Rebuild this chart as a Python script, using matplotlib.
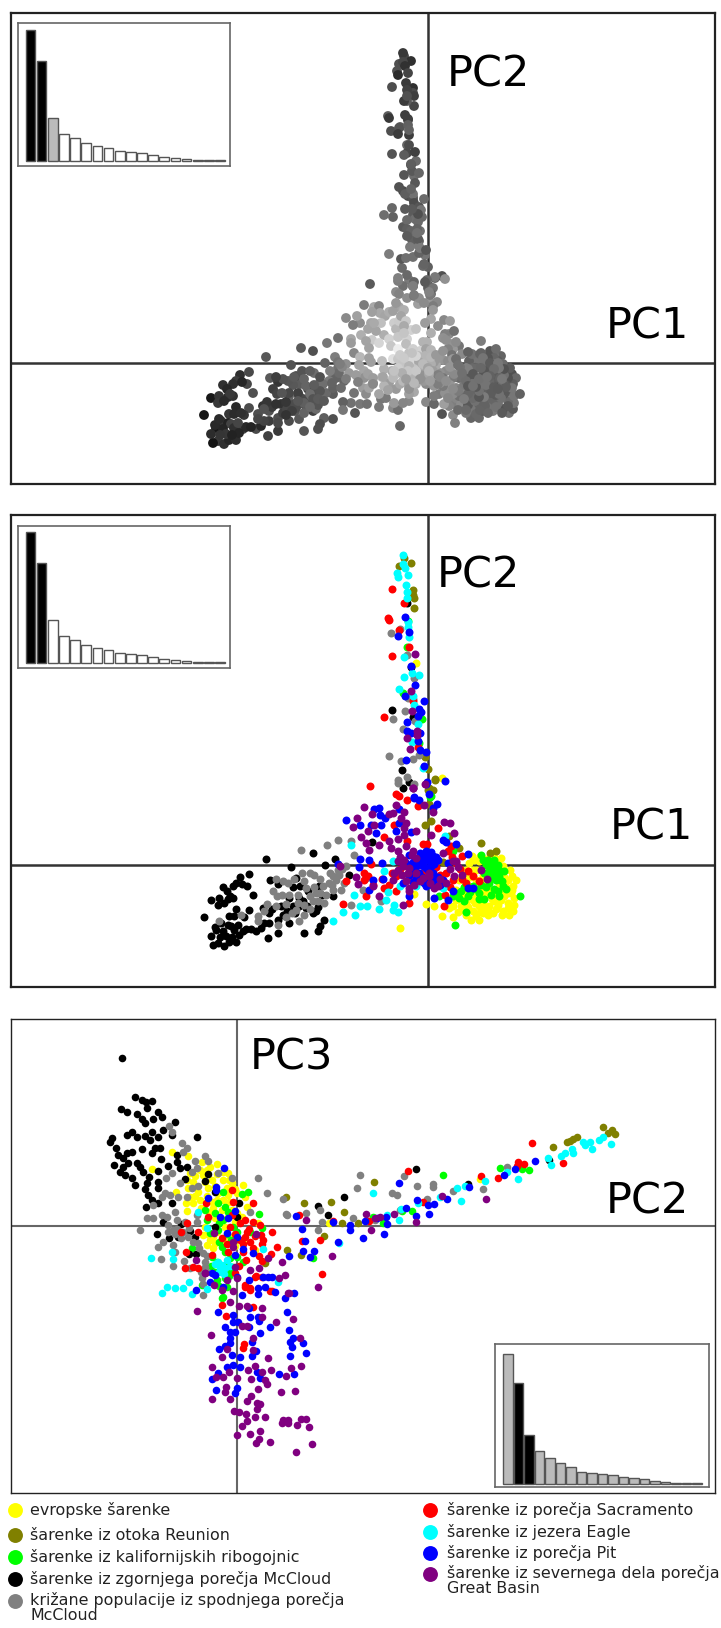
import numpy as np
import matplotlib
matplotlib.use("Agg")
import matplotlib.pyplot as plt

W, H = 721, 1628

# PC1 / PC2 scores (panels 1 and 2), one list per population
pc12_yellow = [(-28,-63),(-2,-39),(6,-41),(-14,-29),(14,-51),(25,-52),(43,-55),(51,-55),(81,-50),(85,-46),(86,-40),(84,-11),(88,-15),(85,-21),(73,7),(46,5),(41,2),(38,-5),(31,-15),(28,-25),(25,-41),(35,-45),(45,-46),(55,-48),(65,-48),(75,-46),(80,-38),(51,-41),(61,-41),(70,-40),(76,-31),(48,-31),(38,-38),(48,-15),(55,-11),(48,-5),(51,4),(61,-1),(68,-25),(80,-15),(83,-28),(55,-38),(45,-5),(55,-25),(41,-21),(61,-25),(71,-18),(28,-35),(21,-43),(48,-51),(60,-45),(80,-43),(-12,202),(14,87),
               (44,9),(52,9),(58,6),(66,8),(70,2),(36,-10),(42,-12),(52,-16),(60,-13),(70,-8),(76,-12),(34,-30),(40,-28),(46,-26),(52,-32),(58,-30),(64,-34),(72,-26),(78,-22),(33,-41),(40,-42),(47,-38),(57,-43),(66,-36),(73,-35),(80,-28),(86,-33),(30,-47),(38,-50),(52,-47),(60,-50),(68,-44),(74,-50),(84,-25),(65,-5),(75,-1),(82,-5),(45,-35),(58,-20),(68,-32)]
pc12_olive = [(53,22),(62,12),(68,14),(31,17),(21,29),(3,44),(-3,40),(1,61),(0,75),(3,75),(7,85),(15,3),(-24,307),(-17,302),(-29,299),(-15,275),(-15,270),(-14,267),(-14,257),(-3,108),(0,96),(7,86),(1,77),(5,75)]
pc12_green = [(53,10),(66,5),(58,0),(61,-6),(71,-11),(76,-6),(75,-21),(78,-24),(92,-31),(71,-31),(63,-30),(56,-34),(51,-34),(51,-28),(38,-47),(27,-60),(33,-26),(31,-33),(25,14),(3,69),(25,-31),(68,-15),(61,-18),(53,-20),(65,-11),(71,-5),(60,5),(45,-21),(40,-31),(11,-31),(66,-1),(-20,244),(-21,218),(-25,172),(-6,146),(-9,122),(2,68),
              (55,5),(62,0),(70,0),(56,-8),(66,-6),(62,-13),(72,-15),(58,-22),(66,-24),(74,-16),(48,-24),(36,-22),(42,-27),(30,-28),(36,-36),(70,-26)]
pc12_black = [(-162,6),(-115,12),(-93,6),(-103,0),(-137,-2),(-179,-9),(-188,-12),(-158,-15),(-150,-19),(-192,-18),(-195,-21),(-205,-22),(-181,-21),(-201,-26),(-175,-30),(-217,-35),(-209,-33),(-200,-34),(-195,-33),(-210,-40),(-192,-44),(-179,-45),(-224,-52),(-199,-51),(-194,-51),(-184,-52),(-207,-58),(-200,-60),(-197,-61),(-212,-65),(-217,-71),(-205,-66),(-194,-65),(-185,-66),(-182,-64),(-210,-78),(-215,-80),(-204,-81),(-199,-77),(-192,-77),(-202,-71),(-189,-70),(-172,-66),(-167,-63),(-160,-73),(-150,-68),(-159,-58),(-150,-55),(-165,-43),(-159,-48),(-147,-41),(-139,-58),(-145,-50),(-135,-41),(-129,-41),(-121,-41),(-139,-33),(-129,-33),(-128,-21),(-132,-13),(-109,-21),(-106,-30),(-95,-31),(-79,-10),(-115,-48),(-104,-55),(-108,-61),(-110,-66),(-124,-68),(-122,-43),(-21,262),(-17,198),(-36,155),(-15,148),(-26,95),(-19,83),(-25,77),(-56,23),
              (-186,-19),(-198,-31),(-204,-38),(-213,-62),(-208,-72),(-196,-72),(-190,-60),(-177,-64),(-164,-58),(-156,-44),(-141,-46),(-133,-48),(-125,-36),(-112,-46),(-120,-26),(-135,-22),(-110,-42)]
pc12_gray = [(-127,15),(-101,20),(-90,25),(-77,24),(-74,10),(-82,-1),(-90,-5),(-95,-11),(-114,-10),(-92,-15),(-99,-18),(-84,-18),(-140,-18),(-155,-26),(-151,-31),(-122,-23),(-112,-28),(-118,-31),(-130,-30),(-102,-30),(-115,-36),(-132,-45),(-129,-56),(-161,-39),(-170,-51),(-152,-41),(-150,-60),(-187,-50),(-209,-56),(-170,-56),(-62,-13),(-65,-25),(-47,-36),(-77,-40),(-95,-25),(-87,-25),(-105,-21),(-89,-10),(-124,-50),(-142,-39),(-145,-16),(-139,-30),(-37,232),(-28,236),(-21,210),(-14,187),(-20,167),(-15,166),(-23,154),(-35,146),(-13,144),(-25,136),(-39,109),(-27,104),(-15,106),(-9,110),(-21,88),(-30,82),(-14,81),(-30,85),(-15,77),
             (-134,-14),(-126,-8),(-118,-8),(-124,-16),(-108,-28),(-98,-8),(-108,-14),(-86,-4),(-96,-20),(-110,-36),(-124,-40),(-136,-48),(-118,-44),(-142,-52),(-130,-38),(-104,-38),(-114,-22),(-146,-30),(-152,-14),(-164,-46)]
pc12_red = [(-58,79),(-32,71),(-29,69),(-21,65),(-10,59),(10,37),(-34,40),(-44,28),(-21,24),(-5,21),(-1,21),(23,19),(20,14),(34,9),(-57,1),(-64,-8),(-64,-15),(-60,-11),(-46,-14),(-39,-20),(-44,-23),(-55,-20),(-62,-31),(-32,-26),(-19,-38),(-32,-11),(-22,-1),(-9,0),(-5,-8),(5,-5),(18,-8),(17,-30),(16,-41),(25,-15),(40,-6),(45,-11),(51,-16),(-85,-39),(-82,-16),(-36,276),(-24,262),(-40,247),(-39,245),(-29,235),(-19,218),(-36,209),(-44,148),(-15,164),(-10,118),
            (24,8),(28,2),(32,-4),(12,-10),(8,-2),(-14,-4),(-28,-4),(-36,-8),(-18,-12),(34,-14),(38,-18),(22,-22)]
pc12_cyan = [(-95,-56),(-85,-47),(-73,-50),(-68,-41),(-61,-41),(-49,-44),(-35,-45),(-30,-47),(-34,-40),(-42,-35),(-40,-27),(-74,-30),(-28,-21),(-12,-21),(-44,-6),(-35,4),(17,29),(-77,20),(15,-23),(-25,310),(-25,301),(-23,297),(-31,292),(-30,288),(-20,290),(-22,280),(-21,273),(-21,267),(-20,243),(-20,238),(-19,228),(-24,208),(-24,188),(-16,192),(-9,190),(-29,176),(-15,169),(-14,160),(-10,141),(-16,123),(-5,97)]
pc12_blue = [(-82,45),(-68,40),(-54,56),(-49,57),(-48,50),(-43,47),(-57,40),(-47,40),(-32,34),(-29,42),(-14,67),(-9,65),(-2,81),(17,84),(9,61),(5,57),(-17,33),(-52,32),(-29,56),(15,25),(18,23),(28,21),(40,11),(-68,6),(-59,5),(-69,-2),(-90,1),(-46,2),(-22,2),(-19,10),(-5,10),(0,10),(5,9),(10,5),(-5,4),(1,4),(6,1),(-12,-1),(-2,-3),(3,-1),(-9,-8),(-19,-10),(-25,-18),(-2,-21),(6,-15),(15,-15),(25,-26),(20,-35),(6,-33),(-19,-31),(-45,-14),(-59,-25),(40,-23),(45,-23),(-55,-15),(20,2),(-15,-17),(-23,248),(-19,233),(-30,229),(-17,199),(-13,180),(-23,169),(-4,164),(-9,156),(-7,153),(-10,149),(-21,143),(-21,134),(-17,132),(-8,132),(-10,124),(-8,115),(-2,113),(-22,105),(-4,99),(-1,83),(1,71),(-14,68),
             (-8,12),(-2,14),(3,13),(-10,7),(-3,7),(3,6),(8,8),(-15,3),(-9,1),(-5,-1),(0,-5),(5,-8),(-14,-6),(-6,-12),(0,-14),(10,-12),(-12,-14),(-4,-18),(4,-20),(12,-20)]
pc12_purple = [(-64,58),(-71,47),(-75,38),(-56,51),(-60,34),(-54,40),(-67,28),(-62,22),(-49,20),(-59,15),(-39,51),(-35,52),(-32,60),(-24,53),(-27,47),(-22,42),(-24,37),(-39,24),(-30,26),(-24,30),(-12,34),(-37,17),(-30,14),(-22,19),(-15,14),(-15,77),(-4,60),(5,53),(16,43),(22,42),(26,32),(3,30),(15,12),(-88,-1),(-72,-12),(-70,-19),(-49,-31),(-55,-21),(-35,-15),(-30,4),(-25,-1),(-30,-5),(-19,-3),(-12,7),(-5,-13),(1,-11),(-19,-23),(-25,-40),(6,-23),(10,-21),(25,4),(28,4),(26,-11),(34,-10),(53,-5),(59,-14),(-19,-26),(1,-8),(-13,211),(-17,174),(-16,154),(-11,134),(-11,130),(-21,127),(-18,116),(-3,81),(-15,77),
               (-28,8),(-24,5),(-20,-8),(-26,-10),(-12,-8),(-8,-16),(2,-18),(12,-14),(18,-18),(22,-4),(30,-2),(-14,-20),(-22,-16),(-34,-8),(-16,10)]

# PC2 / PC3 scores (panel 3)
pc23_yellow = [(-65,74),(-49,70),(-85,57),(-61,34),(-35,64),(-20,62),(-27,59),(-47,53),(-37,56),(-14,54),(-9,53),(-50,46),(-44,44),(-34,51),(-25,46),(-14,46),(-5,43),(-49,38),(-39,34),(-29,38),(-19,33),(-9,31),(0,33),(6,41),(-47,29),(-37,26),(-25,24),(-14,26),(-5,16),(-51,23),(-44,23),(-50,15),(-24,18),(-15,16),(10,19),(8,29),(-22,8),(-32,-1),(-27,-14),(-22,-17),(-30,-19),(-12,-1),(-7,-11),(5,9),(21,3),(6,-17),(18,-24),(0,13),(-34,-9),(-24,-11),(243,47),(92,3),
               (-42,50),(-30,56),(-20,52),(-8,46),(-40,38),(-32,44),(-22,40),(-10,38),(-2,37),(-42,30),(-30,30),(-20,26),(-8,24),(-36,18),(-28,14),(-10,8),(-2,4),(-30,-8),(-20,-6),(-14,-14),(-24,-22),(-2,-20)]
pc23_olive = [(49,29),(67,23),(94,24),(107,14),(137,44),(105,3),(121,3),(87,-10),(50,-24),(316,79),(330,84),(333,85),(336,87),(340,89),(366,99),(371,93),(375,96),(378,92),(64,-29),(28,-37)]
pc23_green = [(136,9),(146,3),(165,15),(175,15),(206,51),(263,58),(285,57),(292,56),(-14,34),(5,32),(11,34),(-19,23),(-12,19),(-32,16),(-22,13),(22,12),(-14,6),(-30,6),(-19,-4),(-27,-7),(-4,-1),(0,-6),(13,-6),(25,-2),(-15,-21),(-45,-22),(-25,-31),(-7,-32),(-15,-44),(-4,-41),(-20,-54),(-10,-61),(-14,-71),(76,-32),(0,-31),(6,-36),(-15,-72),(-7,-46),(-35,-59),
              (-9,14),(-18,3),(-10,-8),(-18,-16),(-12,-26),(-20,-36),(-10,-38),(-22,-46),(-8,-50),(-18,-60),(-12,-52),(-26,-40),(-6,-14)]
pc23_black = [(-115,168),(-102,129),(-95,126),(-91,124),(-85,125),(-90,118),(-116,117),(-110,114),(-100,112),(-95,107),(-92,103),(-79,114),(-75,109),(-84,107),(-62,104),(-74,96),(-85,94),(-65,91),(-40,89),(-105,94),(-110,91),(-100,89),(-92,90),(-79,89),(-125,88),(-127,84),(-87,86),(-121,78),(-95,77),(-85,73),(-77,78),(-82,78),(-119,71),(-110,73),(-105,74),(-114,68),(-109,63),(-60,71),(-76,67),(-100,63),(-97,59),(-123,61),(-114,59),(-79,55),(-69,60),(-60,64),(-57,58),(-50,59),(-94,54),(-117,54),(-112,51),(-105,48),(-102,41),(-88,49),(-90,43),(-79,44),(-79,38),(-52,47),(-29,52),(-32,45),(-22,34),(-92,37),(-89,31),(-85,26),(-79,23),(-65,23),(-91,19),(2,23),(0,9),(-22,-1),(-74,4),(-56,2),(-47,-5),(-80,-8),(-68,-12),(-59,-11),(-42,-11),(-48,-28),(-41,-28),(81,20),(107,29),(91,11),(179,57),(231,42),(312,66)]
pc23_gray = [(-68,100),(-65,94),(-55,83),(-50,78),(-54,74),(-32,70),(-29,65),(-42,65),(-40,58),(-45,54),(-71,48),(-65,53),(-19,53),(-5,48),(21,48),(30,33),(-57,43),(-39,40),(-45,38),(-72,33),(-67,31),(-59,29),(-50,29),(-75,29),(-84,21),(-62,14),(-75,11),(-84,8),(-90,8),(-70,9),(-40,11),(-40,4),(-60,6),(-69,1),(-64,-4),(-97,-4),(-54,-6),(-69,-6),(-49,-11),(-74,-16),(-79,-21),(-64,-19),(-62,-26),(-76,-33),(-53,-35),(-64,-40),(-34,-27),(-32,-36),(-32,-41),(-39,-17),(50,11),(46,27),(69,13),(83,16),(85,4),(81,-4),(-47,-42),(-35,-52),(-34,-69),(13,14),(49,12),(116,8),(120,38),(123,51),(155,33),(160,31),(167,50),(180,40),(196,42),(196,39),(190,27),(163,16),(216,35),(246,37),(270,59),(138,6),
             (-52,4),(-60,-3),(-48,-2),(-38,-22),(-30,-30),(-36,-46),(-30,-46),(-44,-16),(-56,-12),(-62,-8),(-34,-58)]
pc23_red = [(171,55),(62,11),(96,5),(132,5),(65,-15),(83,-14),(186,24),(244,50),(261,48),(281,64),(280,60),(287,62),(295,83),(326,63),(-5,36),(-31,23),(-4,24),(16,23),(-29,9),(8,6),(16,4),(-5,11),(23,1),(35,-6),(24,-9),(26,-14),(25,-18),(10,-6),(8,-11),(3,-14),(13,-16),(-7,-1),(-15,-12),(-39,-6),(-25,-29),(-9,-26),(-51,-26),(-52,-42),(-44,-41),(-39,-42),(6,-26),(40,-21),(34,-28),(25,-35),(9,-34),(18,-51),(25,-51),(8,-61),(13,-62),(-2,-47),(85,-48),(-56,-6),(-50,3),(35,-65),(-11,-90),(-15,-79),(16,-81),(7,-118),(6,-122),(33,-65),(19,-50),(8,-59),(13,-64),
            (3,3),(12,-3),(18,-10),(6,-18),(-2,-8),(-10,-18),(16,-22),(22,-30),(2,-40)]
pc23_cyan = [(136,33),(162,6),(164,17),(181,23),(203,29),(220,38),(224,25),(228,40),(248,45),(281,47),(270,54),(311,68),(314,61),(324,70),(328,73),(335,77),(336,73),(346,84),(353,84),(348,81),(355,77),(362,86),(366,89),(374,82),(102,-17),(150,11),(-39,14),(-65,-26),(-86,-32),(-64,-33),(-75,-67),(-70,-61),(-62,-62),(-54,-62),(-48,-56),(-30,-63),(-45,-68),(-19,-36),(-15,-39),(-12,-42),(-17,-42),(-10,-34),(26,-23),(41,-56),(-30,-2),(-22,-38),(-18,-46),(-13,-48),(-7,-40)]
pc23_blue = [(-13,58),(-21,39),(-21,36),(-29,28),(-17,9),(-9,8),(-2,15),(-10,-7),(0,-11),(6,-23),(16,-27),(-2,-29),(-25,-47),(-22,-49),(-27,-56),(0,-51),(12,-54),(26,-51),(31,-51),(35,-51),(21,-62),(28,-61),(21,-68),(38,-66),(57,-67),(48,-72),(-41,-64),(-14,-61),(5,-69),(59,10),(96,4),(65,-3),(113,-4),(68,-15),(101,-16),(52,-30),(77,-25),(73,-31),(66,-25),(113,1),(126,-12),(128,5),(140,8),(149,9),(150,2),(147,-8),(169,18),(179,10),(192,12),(162,43),(180,26),(191,21),(197,22),(210,27),(232,39),(267,51),(278,57),(298,65),(-19,-86),(-4,-89),(-4,-96),(1,-96),(12,-82),(13,-91),(21,-91),(22,-95),(-12,-101),(12,-101),(50,-86),(33,-101),(-7,-106),(-2,-106),(23,-107),(52,-104),(-7,-112),(-7,-117),(15,-116),(-12,-120),(-18,-123),(19,-125),(-5,-129),(3,-131),(15,-130),(56,-112),(53,-116),(55,-121),(66,-117),(69,-127),(53,-130),(-10,-141),(-4,-139),(3,-141),(-19,-147),(-25,-153),(20,-146),(23,-152),(42,-148),(57,-148),(-21,-164),(0,-162),(-2,-167)]
pc23_purple = [(-40,-85),(-7,-76),(2,-80),(10,-80),(25,-82),(25,-91),(39,-96),(56,-93),(5,-100),(10,-100),(-26,-109),(16,-112),(63,-112),(-10,-123),(-15,-131),(16,-124),(31,-132),(-25,-141),(18,-140),(11,-144),(25,-146),(34,-144),(54,-142),(64,-140),(-21,-151),(-14,-151),(-8,-146),(0,-152),(14,-153),(49,-150),(28,-154),(30,-158),(-12,-166),(-11,-161),(21,-163),(44,-166),(58,-165),(-25,-173),(-7,-173),(10,-175),(14,-170),(20,-177),(23,-178),(20,-183),(-3,-185),(2,-186),(9,-188),(28,-191),(18,-191),(10,-195),(5,-200),(46,-194),(51,-194),(45,-197),(51,-197),(64,-193),(69,-193),(60,-199),(72,-201),(0,-209),(13,-208),(23,-205),(22,-213),(19,-217),(33,-216),(75,-218),(59,-226),(81,-61),(42,-52),(48,-49),(51,-67),(-15,-64),(-32,-47),(13,-44),(22,-42),(45,-36),(-2,-41),(-23,-7),(-4,-16),(-4,-21),(-41,-34),(-32,-47),(-23,-59),(-10,-54),(0,-52),(31,-32),(95,-30),(69,6),(19,-8),(52,-67),(-4,-65),(129,12),(134,-4),(143,9),(157,12),(179,4),(205,30),(249,27),(138,8)]

pop_colors = ["#ffff00", "#808000", "#00ff00", "#000000", "#808080", "#ff0000", "#00ffff", "#0000ff", "#800080"]
pc12_all = [pc12_yellow, pc12_olive, pc12_green, pc12_black, pc12_gray, pc12_red, pc12_cyan, pc12_blue, pc12_purple]
pc23_all = [pc23_yellow, pc23_olive, pc23_green, pc23_black, pc23_gray, pc23_red, pc23_cyan, pc23_blue, pc23_purple]

# eigenvalue insets
eig_top = [391, 299, 128, 81, 69, 53, 45, 39, 30, 25, 22, 18, 12, 9, 6, 3, 2, 1]
eig_bottom = [390, 303, 147, 97, 76, 62, 50, 36, 33, 28, 26, 21, 18, 14, 8, 5, 3, 2, 1]
eig1_colors = ["black", "black", "#bbbbbb"] + ["white"] * 15
eig2_colors = ["black", "black"] + ["white"] * 16
eig3_colors = ["#bbbbbb", "black", "black"] + ["#bbbbbb"] * 16

legend_left = ["evropske šarenke", "šarenke iz otoka Reunion", "šarenke iz kalifornijskih ribogojnic",
               "šarenke iz zgornjega porečja McCloud", "križane populacije iz spodnjega porečja\nMcCloud"]
legend_right = ["šarenke iz porečja Sacramento", "šarenke iz jezera Eagle", "šarenke iz porečja Pit",
                "šarenke iz severnega dela porečja\nGreat Basin"]


def box(x0, y0, x1, y1):
    return [x0 / W, 1 - y1 / H, (x1 - x0) / W, (y1 - y0) / H]


def make_panel(frame, cross, lw_frame, lw_cross, cross_color):
    x0, y0, x1, y1 = frame
    cx, cy = cross
    ax = fig.add_axes(box(x0, y0, x1, y1))
    ax.set_xlim(x0 - cx, x1 - cx)
    ax.set_ylim(cy - y1, cy - y0)
    ax.set_xticks([])
    ax.set_yticks([])
    for s in ax.spines.values():
        s.set_linewidth(lw_frame)
        s.set_color("#222222")
    ax.axhline(0, color=cross_color, lw=lw_cross, zorder=1)
    ax.axvline(0, color=cross_color, lw=lw_cross, zorder=1)
    return ax


def make_inset(rect, values, colors, xlim, ylim):
    a = fig.add_axes(box(*rect), zorder=5)
    a.bar(np.arange(len(values)), values, width=0.87, color=colors, edgecolor="#555555", linewidth=1)
    a.set_xlim(*xlim)
    a.set_ylim(*ylim)
    a.set_xticks([])
    a.set_yticks([])
    for s in a.spines.values():
        s.set_color("#666666")
        s.set_linewidth(1.2)


fig = plt.figure(figsize=(W / 100, H / 100), dpi=100)

# panel 1: same scores, grey shade follows PC3
ax1 = make_panel((11, 13, 715, 484), (428, 363), 1.6, 1.8, "#333333")
pts = np.array([p for group in pc12_all for p in group], dtype=float)
dist = np.hypot(pts[:, 0] + 30, (pts[:, 1] - 15))
shade = np.interp(dist, [0, 30, 70, 130, 220], [0.86, 0.7, 0.42, 0.27, 0.12])
right = pts[:, 0] > 15
shade[right] = np.interp(pts[right, 0], [15, 40, 90], [0.58, 0.42, 0.38])
top = pts[:, 1] > 90
shade[top] = np.interp(pts[top, 1], [90, 180, 310], [0.42, 0.36, 0.22])
wobble = np.array([0.0, 0.05, -0.04, 0.08, -0.07, 0.03, -0.02])
shade = np.clip(shade + wobble[np.arange(len(pts)) % len(wobble)], 0.08, 0.93)
ax1.scatter(pts[:, 0], pts[:, 1], s=50, c=shade.astype(str), linewidths=0, zorder=2)
ax1.text(19, 289, "PC2", fontsize=31, va="center", color="black")
ax1.text(178, 37, "PC1", fontsize=31, va="center", color="black")

# panel 2
ax2 = make_panel((11, 515, 715, 987), (428, 865), 1.6, 1.8, "#333333")
for group, col in zip(pc12_all, pop_colors):
    g = np.array(group)
    ax2.scatter(g[:, 0], g[:, 1], s=33, color=col, linewidths=0, zorder=2)
ax2.text(9, 289, "PC2", fontsize=31, va="center", color="black")
ax2.text(182, 37, "PC1", fontsize=31, va="center", color="black")

# panel 3
ax3 = make_panel((11, 1019, 715, 1493), (237, 1226), 1.0, 1.5, "#666666")
for group, col in zip(pc23_all, pop_colors):
    g = np.array(group)
    ax3.scatter(g[:, 0], g[:, 1], s=30, color=col, linewidths=0, zorder=2)
ax3.text(13, 168, "PC3", fontsize=31, va="center", color="black")
ax3.text(369, 25, "PC2", fontsize=31, va="center", color="black")

make_inset((18, 23, 230, 166), eig_top, eig1_colors, (-1.12, 17.9), (-16, 413))
make_inset((18, 526, 230, 668), eig_top, eig2_colors, (-1.12, 17.9), (-16, 410))
make_inset((495, 1344, 709, 1487), eig_bottom, eig3_colors, (-1.24, 19.14), (-10, 419))

# legend, drawn in picture coordinates
leg = fig.add_axes([0, 0, 1, 1], zorder=-1)
leg.set_xlim(0, W)
leg.set_ylim(H, 0)
leg.axis("off")
left_y = [1510, 1535, 1557, 1579, 1601]
right_y = [1510, 1532, 1553, 1574]
for label, y, col in zip(legend_left, left_y, pop_colors[:5]):
    leg.scatter([15], [y], s=115, color=col, linewidths=0)
    two_lines = "\n" in label
    leg.text(30, y - 9 if two_lines else y, label, fontsize=11.4, va="top" if two_lines else "center",
             color="#222222", linespacing=1.0)
for label, y, col in zip(legend_right, right_y, pop_colors[5:]):
    leg.scatter([430], [y], s=115, color=col, linewidths=0)
    two_lines = "\n" in label
    leg.text(447, y - 9 if two_lines else y, label, fontsize=11.4, va="top" if two_lines else "center",
             color="#222222", linespacing=1.0)

fig.savefig("out.png", dpi=100)
